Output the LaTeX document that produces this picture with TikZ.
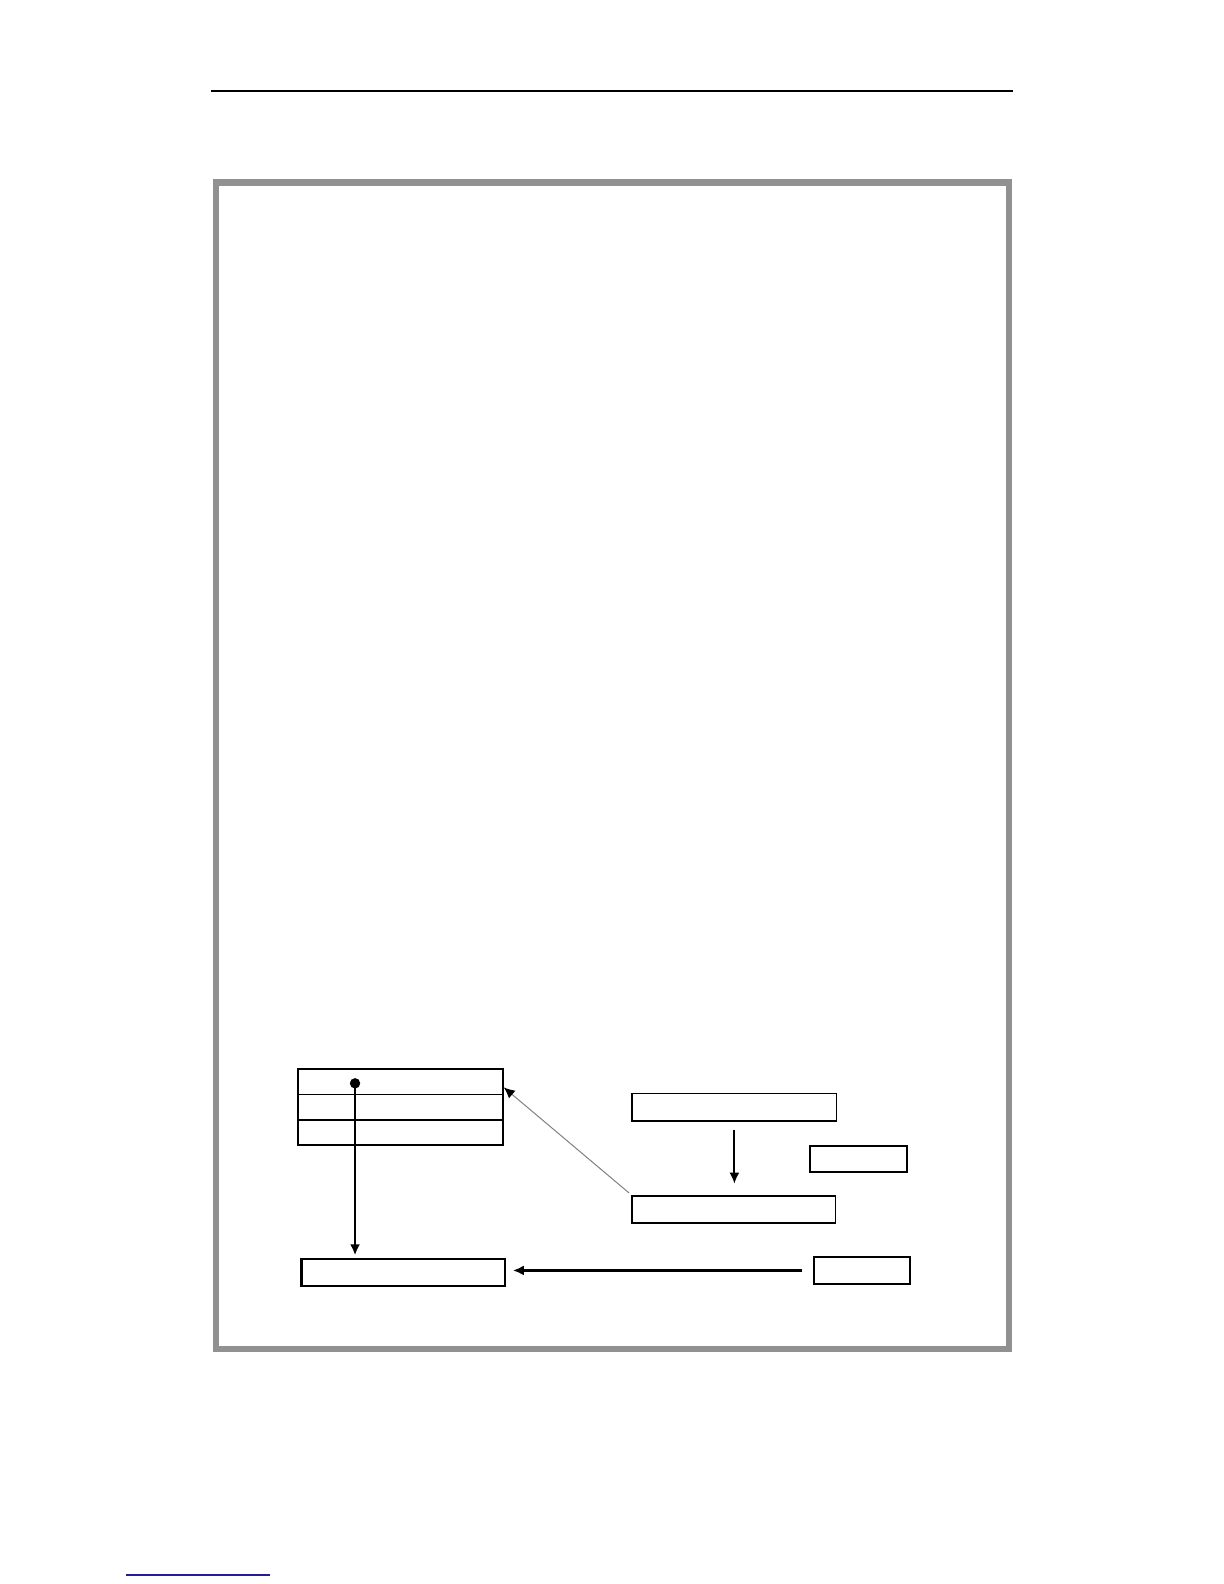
\documentclass[tikz,border=0pt]{standalone}
\usetikzlibrary{arrows.meta}
\definecolor{framegray}{RGB}{145,145,145}
\definecolor{linkblue}{RGB}{30,30,150}
\begin{document}
\begin{tikzpicture}[x=0.50575pt,y=-0.50575pt,
  box/.style={draw, line width=0.9pt, inner sep=0pt, outer sep=0pt, anchor=north west},
  heavy/.style={line width=1.4pt},
  tip/.style={-{Latex[length=5.5pt,width=5pt]}}]
\useasboundingbox (0,0) rectangle (1210.1,1566);
% header rule
\draw[line width=1pt] (209,90) -- (1001,90);
% frame
\draw[framegray, line width=3.2pt] (213.5,180.5) rectangle (997.5,1333.5);
% table
\node[box, minimum width=102.2pt, minimum height=12.65pt] (t1) at (295,1057) {};
\node[box, minimum width=102.2pt, minimum height=12.65pt] (t2) at (295,1082) {};
\node[box, minimum width=102.2pt, minimum height=12.65pt] (t3) at (295,1107) {};
% lower-left box
\node[box, line width=1.1pt, minimum width=101.7pt, minimum height=13.15pt] (ll) at (298,1245) {};
% right boxes
\node[box, minimum width=102.2pt, minimum height=13.65pt] (r1) at (625,1081) {};
\node[box, minimum width=101.7pt, minimum height=13.65pt] (r2) at (625,1182) {};
\node[box, minimum width=48.55pt, minimum height=13.15pt] (s1) at (801,1133) {};
\node[box, minimum width=48.05pt, minimum height=13.15pt] (s2) at (805,1243) {};
% dot and vertical arrow
\coordinate (d) at (351,1071);
\fill (d) circle (2.6pt);
\draw[heavy, tip, shorten >=2pt] (d) -- (d |- ll.north);
% down arrow
\draw[line width=0.9pt, tip, shorten <=4.5pt, shorten >=6pt] (r1.south) -- (r1.south |- r2.north);
% diagonal
\coordinate (dtip) at (498,1075);
\draw[gray, line width=0.5pt, -{Latex[black,length=5.5pt,width=5pt]}, shorten <=2pt] (r2.north west) -- (dtip);
% horizontal arrow
\draw[heavy, tip, shorten <=6pt, shorten >=4pt] (s2.west) -- (s2.west -| ll.east);
% footer link line
\draw[linkblue, line width=0.8pt] (125,1557) -- (267,1557);
\end{tikzpicture}
\end{document}
